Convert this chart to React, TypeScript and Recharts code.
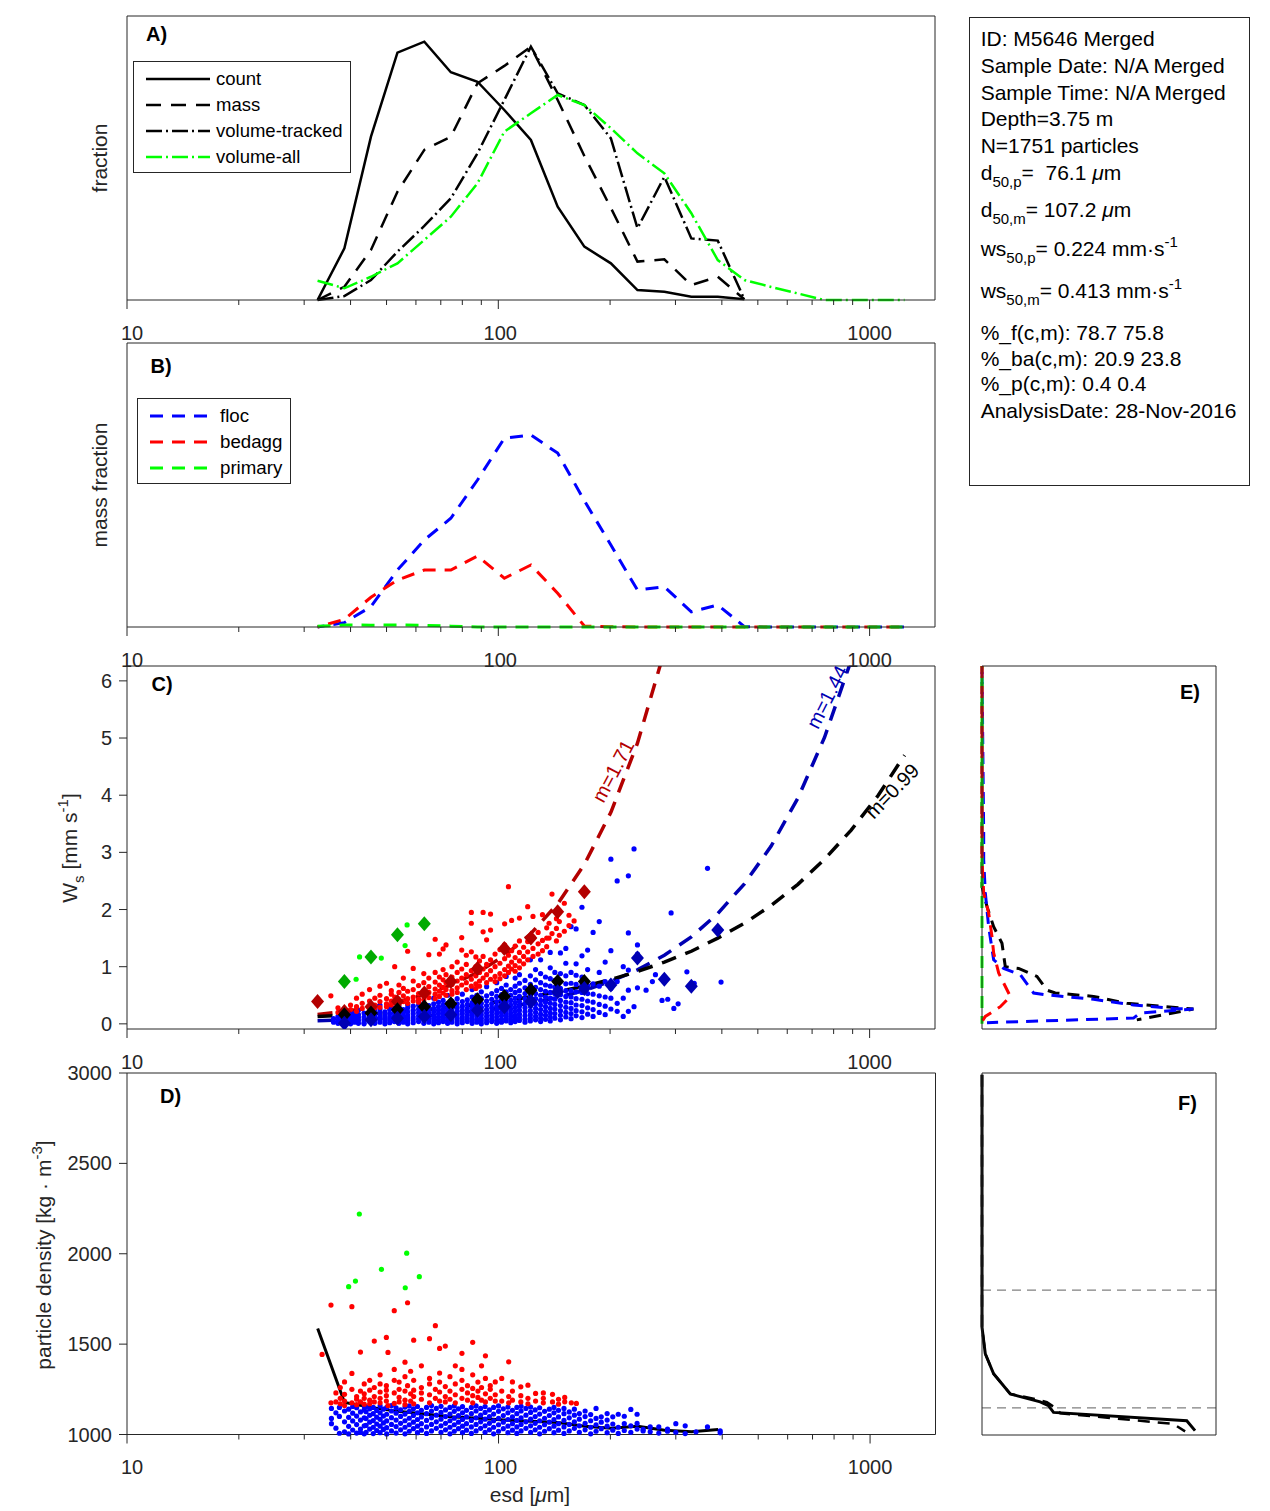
import React from 'react';
import { ComposedChart, Line, Scatter, XAxis, YAxis, ReferenceLine } from 'recharts';

const AX = '#262626';
const FONT = '"Liberation Sans", Arial, Helvetica, sans-serif';
const ZERO = { top: 0, right: 0, bottom: 0, left: 0 };
const DARK_RED = '#b30000';
const DARK_BLUE = '#0000b3';
const DARK_GREEN = '#00aa00';

// esd bin centres [um]
const BINS = [32.6, 38.5, 45.4, 53.5, 63.2, 74.5, 87.9, 103.8, 122.4, 144.5, 170.5, 201, 237, 280, 331, 390, 460, 543, 641, 756, 892, 1053, 1242];
const LOG_TICKS = [10, 20, 30, 40, 50, 60, 70, 80, 90, 100, 200, 300, 400, 500, 600, 700, 800, 900, 1000];
const X_DOMAIN = [10, 1500];
const WS_TICKS = [0, 1, 2, 3, 4, 5, 6];
const WS_DOMAIN = [-0.09, 6.26];
const RHO_TICKS = [1000, 1500, 2000, 2500, 3000];
const RHO_DOMAIN = [1000, 3000];

// A) size distributions
const COUNT = [0, 0.03, 0.0949, 0.1437, 0.1501, 0.1323, 0.1268, 0.1104, 0.093, 0.0542, 0.031, 0.0213, 0.0058, 0.0048, 0.0019, 0.0019, 0.0004];
const MASS = [0, 0.0077, 0.0291, 0.0629, 0.0872, 0.0949, 0.1259, 0.136, 0.1472, 0.1162, 0.0837, 0.0535, 0.0223, 0.0236, 0.0087, 0.0135, 0.0004];
const VOL_TRACKED = [0, 0.0023, 0.0116, 0.0281, 0.043, 0.0591, 0.0852, 0.1162, 0.1472, 0.1201, 0.1133, 0.0939, 0.0417, 0.0716, 0.0358, 0.0345, 0.0004];
const VOL_ALL = [0.0112, 0.0068, 0.0135, 0.0213, 0.0349, 0.0484, 0.0678, 0.0978, 0.1085, 0.1191, 0.1133, 0.0998, 0.0852, 0.0736, 0.0504, 0.0232, 0.0116, 0.0076, 0.0038, 0, 0, 0, 0];

// B) mass fraction by class
const FLOC_MF = [0, 0.0026, 0.0122, 0.0341, 0.0521, 0.0651, 0.088, 0.113, 0.1149, 0.1041, 0.0756, 0.0491, 0.0221, 0.0241, 0.0091, 0.0132, 0.0002, 0, 0, 0, 0, 0, 0];
const BEDAGG_MF = [0, 0.0046, 0.0178, 0.0281, 0.0341, 0.0341, 0.0425, 0.0292, 0.0371, 0.0202, 0.0006, 0.0002, 0, 0, 0, 0, 0, 0, 0, 0, 0, 0, 0];
const PRIMARY_MF = [0.0004, 0.0012, 0.0011, 0.0012, 0.001, 0.0005, 0, 0, 0, 0, 0, 0, 0, 0, 0, 0, 0, 0, 0, 0, 0, 0, 0];

// C) settling velocity [mm/s] per particle, grouped by esd
const FLOC_WS: [number, number[]][] = [
  [36, [0.03, 0.09]], [37, [0.01, 0.06, 0.13]], [38, [0.0, 0.04, 0.1, 0.17]], [39, [0.02, 0.07, 0.12, 0.2]],
  [40, [0.0, 0.05, 0.1, 0.15, 0.22]], [41, [0.03, 0.08, 0.13, 0.18]], [42, [0.01, 0.06, 0.11, 0.16, 0.24]],
  [43.5, [0.0, 0.02, 0.07, 0.12, 0.19]], [45, [0.04, 0.09, 0.14, 0.21, 0.28]], [46.5, [0.01, 0.06, 0.11, 0.17, 0.23]],
  [48, [0.03, 0.08, 0.13, 0.19, 0.26, 0.33]], [49.5, [0.0, 0.05, 0.1, 0.15, 0.21]], [51, [0.02, 0.07, 0.12, 0.18, 0.25, 0.31]],
  [52.5, [0.04, 0.09, 0.14, 0.2, 0.27]], [54, [0.01, 0.06, 0.11, 0.16, 0.22, 0.3, 0.38]], [55.5, [0.03, 0.08, 0.13, 0.19, 0.25]],
  [57, [0.0, 0.05, 0.1, 0.15, 0.21, 0.28, 0.34]], [59, [0.02, 0.07, 0.12, 0.18, 0.24, 0.31]],
  [61, [0.04, 0.09, 0.14, 0.2, 0.26, 0.33, 0.42]], [63, [0.01, 0.06, 0.11, 0.16, 0.22, 0.29, 0.36]],
  [65, [0.03, 0.08, 0.13, 0.19, 0.25, 0.32]], [67, [0.0, 0.05, 0.1, 0.15, 0.21, 0.27, 0.35, 0.45]],
  [69, [0.02, 0.07, 0.12, 0.18, 0.24, 0.3, 0.38]], [71, [0.04, 0.09, 0.14, 0.2, 0.26, 0.33, 0.41]],
  [73, [0.01, 0.06, 0.11, 0.17, 0.23, 0.29, 0.36, 0.5]], [75, [0.03, 0.08, 0.13, 0.19, 0.25, 0.32, 0.4]],
  [77.5, [0.0, 0.05, 0.1, 0.16, 0.22, 0.28, 0.35, 0.44]], [80, [0.02, 0.07, 0.12, 0.18, 0.24, 0.31, 0.39, 0.52]],
  [82.5, [0.04, 0.09, 0.15, 0.21, 0.27, 0.34, 0.42]], [85, [0.01, 0.06, 0.11, 0.17, 0.23, 0.3, 0.37, 0.47, 0.6]],
  [87.5, [0.03, 0.08, 0.14, 0.2, 0.26, 0.33, 0.41, 0.5]], [90, [0.0, 0.05, 0.1, 0.16, 0.22, 0.29, 0.36, 0.45, 0.56]],
  [93, [0.02, 0.07, 0.13, 0.19, 0.25, 0.32, 0.4, 0.49, 0.65]], [96, [0.04, 0.09, 0.15, 0.21, 0.28, 0.35, 0.43, 0.53]],
  [99, [0.01, 0.06, 0.12, 0.18, 0.24, 0.31, 0.39, 0.48, 0.58, 0.72]], [102, [0.03, 0.08, 0.14, 0.2, 0.27, 0.34, 0.42, 0.51, 0.62]],
  [105, [0.05, 0.1, 0.16, 0.23, 0.3, 0.38, 0.46, 0.56, 0.68, 0.83]], [108, [0.02, 0.07, 0.13, 0.19, 0.26, 0.33, 0.41, 0.5, 0.6]],
  [111, [0.04, 0.09, 0.15, 0.22, 0.29, 0.37, 0.45, 0.55, 0.66, 0.8]], [114, [0.06, 0.11, 0.17, 0.24, 0.31, 0.39, 0.48, 0.58, 0.71, 0.86]],
  [118, [0.03, 0.08, 0.14, 0.21, 0.28, 0.36, 0.44, 0.53, 0.63, 0.76]], [122, [0.05, 0.1, 0.16, 0.23, 0.31, 0.39, 0.48, 0.58, 0.69, 0.84, 1.12]],
  [126, [0.07, 0.13, 0.2, 0.27, 0.35, 0.44, 0.53, 0.64, 0.77, 0.95]], [130, [0.04, 0.1, 0.17, 0.25, 0.33, 0.41, 0.5, 0.6, 0.72, 0.88, 1.12]],
  [134, [0.08, 0.15, 0.22, 0.3, 0.38, 0.47, 0.57, 0.68, 0.82]], [138, [0.05, 0.12, 0.19, 0.27, 0.36, 0.45, 0.55, 0.66, 0.79, 0.98, 1.25]],
  [142, [0.1, 0.18, 0.26, 0.34, 0.43, 0.53, 0.64, 0.76, 0.9]], [147, [0.07, 0.15, 0.23, 0.32, 0.41, 0.51, 0.62, 0.74, 0.88, 1.24]],
  [152, [0.12, 0.2, 0.29, 0.38, 0.48, 0.58, 0.7, 0.84, 1.06, 1.32]], [157, [0.09, 0.18, 0.27, 0.37, 0.47, 0.58, 0.71, 0.9, 1.7]],
  [162, [0.14, 0.23, 0.33, 0.44, 0.56, 0.69, 0.85, 1.05, 1.66]], [168, [0.11, 0.21, 0.32, 0.43, 0.55, 0.68, 0.82, 1.19, 2.04]],
  [174, [0.17, 0.28, 0.4, 0.53, 0.67, 0.95, 1.29]], [180, [0.13, 0.25, 0.38, 0.52, 0.7, 1.6]],
  [187, [0.2, 0.34, 0.49, 0.66, 0.9, 1.79]], [194, [0.16, 0.31, 0.47, 0.74, 1.08]], [201, [0.26, 0.45, 0.62, 1.28, 2.88]],
  [209, [0.22, 0.36, 0.74, 2.5]], [217, [0.13, 0.45, 1.0]], [224, [0.22, 0.59, 0.94, 1.59, 2.59]], [232, [0.3, 3.06]],
  [237, [0.63, 1.22, 1.38]], [250, [0.59]], [260, [0.74]], [265, [0.86]], [276, [0.41]], [286, [0.43]], [292, [1.94]],
  [297, [0.27]], [305, [0.35]], [322, [0.91]], [337, [0.71]], [366, [2.72]], [398, [0.73]],
];
const BEDAGG_WS: [number, number[]][] = [
  [33, [0.39]], [35.4, [0.49]], [37, [0.2, 0.28]], [38.5, [0.22, 0.17]], [40, [0.25, 0.33]], [41.5, [0.45, 0.3, 0.22]],
  [43, [0.27, 0.36, 0.52]], [45, [0.3, 0.4, 0.24, 0.6]], [46.5, [0.33, 0.45, 0.28]], [48, [0.39, 0.29, 0.5, 0.66]],
  [50, [0.71, 0.35, 0.44, 0.3]], [51.5, [0.4, 0.52, 0.33, 0.58]], [52.6, [1.0, 0.37, 0.47]], [54, [0.42, 0.55, 0.34, 0.68]],
  [55.5, [0.39, 0.49, 0.62, 0.8]], [57, [1.27, 0.44, 0.36, 0.57]], [59, [0.97, 0.47, 0.4, 0.6, 0.75]], [61, [0.43, 0.53, 0.67, 0.38]],
  [63, [0.49, 0.58, 0.72, 0.88, 0.42]], [65, [1.21, 0.46, 0.55, 0.65, 0.8]], [67.6, [1.48, 0.52, 0.61, 0.73, 0.9, 0.44]],
  [69.4, [1.22, 0.57, 0.68, 0.82, 0.48]], [71, [1.31, 0.54, 0.64, 0.77, 0.95]], [72.3, [1.38, 0.6, 0.72, 0.86, 0.5]],
  [75, [0.58, 0.69, 0.82, 1.0, 0.52]], [77.5, [0.63, 0.75, 0.9, 1.08, 0.55]], [79.7, [1.51, 1.29, 0.68, 0.8, 0.96]],
  [82, [0.6, 0.72, 0.86, 1.04, 1.2]], [84.6, [1.95, 1.76, 1.26, 0.66, 0.78, 0.93]], [87, [0.7, 0.84, 1.0, 1.17, 0.62]],
  [89, [0.75, 0.9, 1.1, 0.66]], [91, [1.61, 1.95, 0.8, 0.96, 1.18]], [93, [1.47, 0.72, 0.86, 1.04]],
  [95.3, [1.64, 1.92, 0.78, 0.93, 1.12]], [98, [0.83, 1.0, 1.22, 0.74]], [101, [0.88, 1.06, 1.3, 0.79]],
  [104, [1.75, 0.95, 1.14, 1.38, 0.84]], [106.5, [2.4, 1.01, 1.2, 0.9]], [108.6, [1.81, 1.08, 1.28, 0.96]],
  [111, [1.02, 1.16, 1.36, 0.92]], [114, [1.85, 1.1, 1.25, 1.45, 0.98]], [117, [1.18, 1.34, 1.05]], [120, [2.05, 1.26, 1.44, 1.12]],
  [124, [1.88, 1.32, 1.52, 1.18]], [128, [1.4, 1.6, 1.22]], [131.5, [1.91, 1.46, 1.28]], [135, [1.5, 1.68, 1.35]],
  [137, [1.5, 1.76]], [139.5, [2.27, 1.58]], [143.4, [1.67, 1.84, 1.45]], [146, [1.79, 1.55]], [150.6, [2.11, 1.62]],
  [155, [1.9, 1.72]], [160, [1.8]],
];
const PRIMARY_WS: [number, number][] = [[41.4, 0.78], [42.3, 1.17], [48.4, 1.15], [56.1, 1.37], [56.8, 1.73]];

// C) bin medians (diamonds), each starting at the given bin index
const BEDAGG_MED = [0.39, 0.215, 0.3, 0.39, 0.54, 0.74, 0.97, 1.32, 1.5, 1.96, 2.31];
const PRIMARY_MED = [0.74, 1.17, 1.56, 1.75];
const ALL_MED = [0.16, 0.19, 0.245, 0.3, 0.35, 0.42, 0.48, 0.59, 0.74, 0.74];
const FLOC_MED = [0.01, 0.07, 0.1, 0.13, 0.16, 0.24, 0.3, 0.39, 0.56, 0.62, 0.68, 1.15, 0.78, 0.66, 1.64];

// C) fitted power laws read along the bins
const FIT_BEDAGG = [0.165, 0.218, 0.29, 0.385, 0.51, 0.677, 0.899, 1.19, 1.58, 2.1, 2.79, 3.7, 4.91, 6.52];
const FIT_FLOC = [0.054, 0.069, 0.087, 0.11, 0.14, 0.178, 0.226, 0.287, 0.364, 0.462, 0.586, 0.744, 0.944, 1.2, 1.52, 1.93, 2.45, 3.11, 3.95, 5.01, 6.36];
const FIT_ALL = [0.128, 0.151, 0.178, 0.209, 0.247, 0.291, 0.342, 0.403, 0.475, 0.56, 0.66, 0.777, 0.915, 1.08, 1.27, 1.5, 1.76, 2.07, 2.44, 2.88, 3.39, 3.99, 4.7];

// D) particle density [kg/m3] per particle, grouped by esd
const FLOC_RHO: [number, number[]][] = [
  [35.5, [1144, 1089, 1060]], [36.5, [1120, 1035]], [37.3, [1007, 1100, 1150]], [38.5, [1015, 1070, 1130]],
  [39.5, [1003, 1045, 1095, 1140]], [40.5, [1025, 1075, 1118, 1155]], [41.5, [1008, 1055, 1102, 1148]],
  [42.5, [1012, 1030, 1080, 1125]], [43.5, [1004, 1048, 1092, 1136, 1158]],
  [44, [1012, 1050, 1088, 1126, 1155]], [45, [1030, 1068, 1106, 1142]], [46, [1005, 1040, 1077, 1115, 1150]],
  [47, [1022, 1058, 1096, 1133]], [48, [1010, 1046, 1084, 1120, 1158]], [49, [1028, 1064, 1102, 1140]],
  [50, [1003, 1038, 1075, 1112, 1150]], [51.5, [1020, 1056, 1093, 1130, 1160]], [53, [1008, 1044, 1080, 1118, 1148]],
  [54.5, [1026, 1062, 1100, 1137]], [56, [1004, 1040, 1076, 1113, 1152]], [57.5, [1018, 1054, 1090, 1128, 1158]],
  [59, [1032, 1068, 1105, 1142]], [60.5, [1010, 1046, 1083, 1120, 1155]], [62, [1024, 1060, 1097, 1134]],
  [64, [1006, 1042, 1078, 1115, 1150]], [66, [1020, 1056, 1092, 1130, 1160]], [68, [1034, 1070, 1107, 1144]],
  [70, [1012, 1048, 1085, 1122, 1156]], [72, [1026, 1062, 1099, 1136]], [74, [1004, 1040, 1076, 1113, 1150]],
  [76, [1018, 1054, 1090, 1128, 1158]], [78, [1032, 1068, 1105, 1142]], [80, [1010, 1046, 1083, 1120, 1154]],
  [82, [1024, 1060, 1097, 1134]], [84.5, [1006, 1042, 1078, 1115, 1150]], [87, [1020, 1056, 1092, 1130, 1158]],
  [89.5, [1034, 1070, 1107, 1144]], [92, [1012, 1048, 1085, 1122, 1155]], [94.5, [1026, 1062, 1099, 1136]],
  [97, [1004, 1040, 1076, 1113, 1150]], [100, [1018, 1054, 1090, 1128, 1158]], [103, [1032, 1068, 1105, 1142]],
  [106, [1010, 1046, 1083, 1120, 1152]], [109, [1024, 1060, 1097, 1134]], [112, [1006, 1042, 1078, 1115, 1150]],
  [115, [1020, 1056, 1092, 1130, 1156]], [118.5, [1034, 1070, 1107, 1144]], [122, [1012, 1048, 1085, 1122, 1152]],
  [125.5, [1026, 1062, 1099, 1136]], [129, [1004, 1040, 1076, 1113, 1148]], [133, [1018, 1054, 1090, 1128]],
  [137, [1032, 1068, 1105, 1140]], [141, [1010, 1046, 1083, 1120, 1150]], [145, [1024, 1060, 1097, 1134]],
  [150, [1006, 1042, 1078, 1115, 1144]], [155, [1020, 1056, 1092, 1125]], [160, [1034, 1070, 1107, 1140]],
  [165, [1012, 1048, 1085, 1116]], [171, [1026, 1062, 1099, 1130]], [177, [1004, 1040, 1076, 1110]],
  [183, [1018, 1054, 1089, 1144]], [189, [1032, 1068, 1098]], [196, [1010, 1046, 1080, 1116]], [203, [1024, 1058, 1098]],
  [210, [1006, 1040, 1112]], [218, [1022, 1060, 1101]], [227, [1012, 1048, 1139]], [236, [1030, 1061, 1112]],
  [245, [1020, 1028]], [256, [1015, 1042]], [270, [1008, 1042]], [285, [1030, 1018]], [300, [1012, 1060]],
  [318, [1005, 1048]], [340, [1015]], [365, [1042]], [395, [1009, 1020]],
];
const BEDAGG_RHO: [number, number[]][] = [
  [33.5, [1443]], [35.4, [1716, 1175]], [36.5, [1180, 1230]], [37.5, [1170, 1260, 1200]], [38.5, [1291, 1185, 1222, 1160]],
  [40.3, [1707, 1338, 1175, 1250]], [41.5, [1195, 1165, 1210]], [42.5, [1456, 1240, 1180]], [43.5, [1280, 1200, 1168, 1225]],
  [45, [1300, 1190, 1245, 1170]], [46.3, [1517, 1260, 1210, 1180]], [48, [1330, 1235, 1175, 1200, 1280]],
  [49.9, [1537, 1270, 1215, 1185, 1245]], [50.4, [1454, 1160]], [52.4, [1685, 1360, 1230, 1172, 1300]],
  [54, [1290, 1205, 1250, 1180]], [56, [1400, 1240, 1190, 1320, 1165]], [56.9, [1729, 1270]], [58, [1350, 1225, 1185]],
  [59.1, [1522, 1300, 1210, 1245, 1170]], [62, [1380, 1260, 1195, 1230]], [65.2, [1530, 1310, 1220, 1175, 1280]],
  [67.6, [1602, 1250, 1200]], [69.4, [1476, 1340, 1235, 1185, 1290]], [71.9, [1489, 1265, 1210, 1180]],
  [74, [1320, 1240, 1195]], [76.5, [1380, 1280, 1220, 1175]], [79.7, [1449, 1360, 1250, 1200, 1300]],
  [82.5, [1230, 1190, 1270]], [85.2, [1510, 1330, 1215, 1175, 1255]], [88, [1290, 1205, 1240]], [90, [1380, 1260, 1190]],
  [92.2, [1435, 1310, 1225, 1180]], [95, [1270, 1200, 1250]], [98, [1291, 1185, 1220]], [102, [1310, 1185, 1240]],
  [106.5, [1402, 1210, 1175]], [109, [1291, 1190, 1240]], [114.8, [1264, 1180, 1215]], [120, [1273, 1200, 1170]],
  [125.8, [1227, 1185]], [132, [1200, 1175, 1230]], [139.7, [1222, 1180]], [145, [1195, 1168]], [150.7, [1181, 1205]],
  [157, [1175]], [162, [1172]],
];
const PRIMARY_RHO: [number, number][] = [[39.5, 1818], [41.2, 1849], [42.2, 2220], [48.4, 1914], [56.6, 2003], [56.1, 1812], [61.2, 1873]];
const RHO_MED = [1587, 1177, 1150, 1128, 1113, 1098, 1090, 1080, 1073, 1066, 1046, 1035, 1045, 1024, 1015, 1028];

// E) ws distributions [fraction, ws]
const E_ALL: [number, number][] = [[0, 6.26], [0, 2.4], [0.0107, 2.05], [0.0249, 1.7], [0.0427, 1.41], [0.0498, 1.0], [0.0783, 0.97], [0.1174, 0.83], [0.1387, 0.59], [0.1565, 0.54], [0.2384, 0.48], [0.3095, 0.36], [0.4517, 0.26], [0.3308, 0.07]];
const E_FLOC: [number, number][] = [[0, 6.26], [0.0036, 3.33], [0.0036, 2.87], [0.0071, 2.29], [0.0142, 1.7], [0.0249, 1.12], [0.0462, 0.97], [0.0818, 0.86], [0.1103, 0.54], [0.1352, 0.51], [0.2384, 0.43], [0.3237, 0.33], [0.409, 0.27], [0.4517, 0.26], [0.3376, 0.19], [0.3237, 0.1], [0.0107, 0.02]];
const E_BEDAGG: [number, number][] = [[0, 6.26], [0, 2.87], [0.0036, 2.29], [0.0142, 1.94], [0.0213, 1.53], [0.0249, 1.24], [0.0356, 0.89], [0.0605, 0.48], [0.0391, 0.3], [0.0071, 0.13], [0, 0.04]];
const E_PRIMARY: [number, number][] = [[0, 6.26], [0, 0]];

// F) density distributions [fraction, density]
const F_SOLID: [number, number][] = [[0, 2990], [0, 1800], [0, 1596], [0.007, 1449], [0.0248, 1338], [0.0604, 1227], [0.1244, 1183], [0.1421, 1162], [0.1528, 1125], [0.4375, 1079], [0.4552, 1024]];
const F_DASHED: [number, number][] = [[0, 2990], [0, 1800], [0, 1596], [0.007, 1449], [0.0248, 1338], [0.0604, 1227], [0.1138, 1199], [0.1387, 1181], [0.1601, 1144], [0.1672, 1120], [0.409, 1061], [0.434, 1020]];
const F_LIMITS = [1800, 1150];

const binned = (vals: number[], from = 0) => vals.map((v, i) => ({ d: BINS[from + i], v }));
const columns = (cols: [number, number[]][]) => cols.flatMap(([d, vs]) => vs.map((v) => ({ d, v })));
const pairs = (p: [number, number][]) => p.map(([d, v]) => ({ d, v }));

const isMajor = (v: number) => v === 10 || v === 100 || v === 1000;
const LABEL_NUDGE: Record<number, number> = { 10: 5, 100: 2, 1000: 0 };

function BottomTick(p: any) {
  const major = isMajor(p.payload.value);
  return (
    <g>
      <line x1={p.x} x2={p.x} y1={p.y} y2={p.y + (major ? 9 : 5)} stroke={AX} strokeWidth={1} />
      {major ? (
        <text x={p.x + LABEL_NUDGE[p.payload.value]} y={p.y + 39.5} textAnchor="middle" fontSize={20} fill={AX} fontFamily={FONT}>
          {p.payload.value}
        </text>
      ) : null}
    </g>
  );
}
function TopTick(p: any) {
  const major = isMajor(p.payload.value);
  return <line x1={p.x} x2={p.x} y1={p.y} y2={p.y - (major ? 9 : 5)} stroke={AX} strokeWidth={1} />;
}
function LeftTick(p: any) {
  return (
    <g>
      <line x1={p.x} x2={p.x - 8} y1={p.y} y2={p.y} stroke={AX} strokeWidth={1} />
      <text x={p.x - 15} y={p.y + 7} textAnchor="end" fontSize={20} fill={AX} fontFamily={FONT}>
        {p.payload.value}
      </text>
    </g>
  );
}
const rightTick = (inward: boolean) => (p: any) => (
  <line x1={p.x} x2={p.x + (inward ? -8 : 8)} y1={p.y} y2={p.y} stroke={AX} strokeWidth={1} />
);

const dot = (fill: string) => (p: any) => <circle cx={p.cx} cy={p.cy} r={2.6} fill={fill} />;
const diamond = (fill: string) => (p: any) => (
  <polygon points={`${p.cx},${p.cy - 7.5} ${p.cx + 6.5},${p.cy} ${p.cx},${p.cy + 7.5} ${p.cx - 6.5},${p.cy}`} fill={fill} />
);

const logAxes = (topH: number) => [
  <XAxis key="xb" xAxisId="b" dataKey="d" type="number" scale="log" domain={X_DOMAIN} ticks={LOG_TICKS} interval={0}
    height={45} tickSize={0} tickMargin={0} tickLine={false} axisLine={{ stroke: AX }} tick={(p: any) => <BottomTick {...p} />} />,
  <XAxis key="xt" xAxisId="t" orientation="top" dataKey="d" type="number" scale="log" domain={X_DOMAIN} ticks={LOG_TICKS} interval={0}
    height={topH} tickSize={0} tickMargin={0} tickLine={false} axisLine={{ stroke: AX }} tick={(p: any) => <TopTick {...p} />} />,
];

const line = (key: string, data: any[], color: string, width: number, dash?: string, offset = 0) => (
  <Line key={key} xAxisId="b" yAxisId="l" data={data} dataKey="v" type="linear" stroke={color} strokeWidth={width}
    strokeDasharray={dash} strokeDashoffset={offset} dot={false} activeDot={false} isAnimationActive={false} />
);
const scatter = (key: string, data: any[], shape: any) => (
  <Scatter key={key} xAxisId="b" yAxisId="l" data={data} dataKey="v" shape={shape} isAnimationActive={false} />
);

const abs = (left: number, top: number): React.CSSProperties => ({ position: 'absolute', left, top });

function VTitle({ x, y, children }: any) {
  return (
    <div style={{ position: 'absolute', left: x, top: y, transform: 'translate(-50%,-50%) rotate(-90deg)', fontSize: 21, lineHeight: '24px', whiteSpace: 'nowrap', color: AX }}>
      {children}
    </div>
  );
}
function Tag({ x, y, text }: any) {
  return (
    <div style={{ position: 'absolute', left: x, top: y - 12, fontSize: 20, lineHeight: '24px', fontWeight: 'bold', color: '#000' }}>{text}</div>
  );
}
function SlopeLabel({ x, y, angle, color, text }: any) {
  return (
    <div style={{ position: 'absolute', left: x, top: y, transform: `translate(-50%,-50%) rotate(${angle}deg)`, fontSize: 20, lineHeight: '24px', whiteSpace: 'nowrap', color }}>
      {text}
    </div>
  );
}
const Sub = ({ children }: any) => <span style={{ fontSize: 15, position: 'relative', top: 7 }}>{children}</span>;
const Sup = ({ children }: any) => <span style={{ fontSize: 15, position: 'relative', top: -9 }}>{children}</span>;

function LegendBox({ left, top, width, height, font, items }: any) {
  return (
    <div style={{ position: 'absolute', left, top, width, height, border: `1px solid ${AX}`, background: '#fff', boxSizing: 'border-box' }}>
      {items.map((it: any) => (
        <div key={it.label} style={{ position: 'absolute', left: 0, top: it.y - 12, width: width - 2, height: 22 }}>
          <svg width={width - 2} height={22} style={{ position: 'absolute', left: 0, top: 0 }}>
            <line x1={it.x1} x2={it.x2} y1={11} y2={11} stroke={it.color} strokeWidth={it.w} strokeDasharray={it.dash} />
          </svg>
          <span style={{ position: 'absolute', left: it.tx, top: 0, fontSize: font, lineHeight: '22px', color: '#000', whiteSpace: 'nowrap' }}>{it.label}</span>
        </div>
      ))}
    </div>
  );
}

function InfoLine({ y, children }: any) {
  return (
    <div style={{ position: 'absolute', left: 10.7, top: y - 18 - 12, fontSize: 21, lineHeight: '24px', whiteSpace: 'pre', color: '#000' }}>{children}</div>
  );
}

const DASH = '15 10';
const DASHDOT = '16 4 2 4';

export default function App() {
  return (
    <div style={{ position: 'absolute', left: 0, top: 0, width: 1270, height: 1511, background: '#fff', fontFamily: FONT, overflow: 'hidden' }}>
      {/* A) */}
      <div style={abs(0, 0)}>
        <ComposedChart width={955} height={345} margin={ZERO}>
          {logAxes(16)}
          <YAxis yAxisId="l" dataKey="v" type="number" domain={[0, 0.165]} width={127} tick={false} tickLine={false} axisLine={{ stroke: AX }} />
          <YAxis yAxisId="r" orientation="right" type="number" domain={[0, 0.165]} width={20} tick={false} tickLine={false} axisLine={{ stroke: AX }} />
          {line('count', binned(COUNT), '#000', 2.5)}
          {line('mass', binned(MASS), '#000', 2.5, DASH)}
          {line('voltr', binned(VOL_TRACKED), '#000', 2.5, DASHDOT)}
          {line('volall', binned(VOL_ALL), '#00ff00', 2.5, DASHDOT)}
        </ComposedChart>
      </div>

      {/* B) */}
      <div style={abs(0, 323)}>
        <ComposedChart width={955} height={349} margin={ZERO}>
          {logAxes(20)}
          <YAxis yAxisId="l" dataKey="v" type="number" domain={[0, 0.17]} width={127} tick={false} tickLine={false} axisLine={{ stroke: AX }} />
          <YAxis yAxisId="r" orientation="right" type="number" domain={[0, 0.17]} width={20} tick={false} tickLine={false} axisLine={{ stroke: AX }} />
          {line('floc', binned(FLOC_MF), '#0000ff', 3, '13 9', 6)}
          {line('bedagg', binned(BEDAGG_MF), '#ff0000', 3, '13 9', 11)}
          {line('primary', binned(PRIMARY_MF), '#00ff00', 3, '13 9')}
        </ComposedChart>
      </div>

      {/* C) */}
      <div style={abs(0, 646)}>
        <ComposedChart width={955} height={428} margin={ZERO}>
          {logAxes(20)}
          <YAxis yAxisId="l" dataKey="v" type="number" domain={WS_DOMAIN} allowDataOverflow ticks={WS_TICKS} interval={0} width={127}
            tickSize={0} tickMargin={0} tickLine={false} axisLine={{ stroke: AX }} tick={(p: any) => <LeftTick {...p} />} />
          <YAxis yAxisId="r" orientation="right" type="number" domain={WS_DOMAIN} ticks={WS_TICKS} interval={0} width={20}
            tickSize={0} tickMargin={0} tickLine={false} axisLine={{ stroke: AX }} tick={rightTick(false)} />
          {scatter('flocpts', columns(FLOC_WS), dot('#0000ff'))}
          {scatter('bedaggpts', columns(BEDAGG_WS), dot('#ff0000'))}
          {scatter('primpts', pairs(PRIMARY_WS), dot('#00ff00'))}
          {scatter('bedaggmed', binned(BEDAGG_MED), diamond(DARK_RED))}
          {scatter('primmed', binned(PRIMARY_MED, 1), diamond(DARK_GREEN))}
          {scatter('allmed', binned(ALL_MED, 1), diamond('#000'))}
          {scatter('flocmed', binned(FLOC_MED, 1), diamond(DARK_BLUE))}
          {line('fitbedagg', binned(FIT_BEDAGG), DARK_RED, 3.5, DASH)}
          {line('fitfloc', binned(FIT_FLOC), DARK_BLUE, 3.5, DASH)}
          {line('fitall', binned(FIT_ALL), '#000', 3.5, DASH)}
        </ComposedChart>
      </div>

      {/* D) */}
      <div style={abs(0, 1053)}>
        <ComposedChart width={955.5} height={426.5} margin={ZERO}>
          {logAxes(20)}
          <YAxis yAxisId="l" dataKey="v" type="number" domain={RHO_DOMAIN} ticks={RHO_TICKS} interval={0} width={127}
            tickSize={0} tickMargin={0} tickLine={false} axisLine={{ stroke: AX }} tick={(p: any) => <LeftTick {...p} />} />
          <YAxis yAxisId="r" orientation="right" type="number" domain={RHO_DOMAIN} ticks={RHO_TICKS} interval={0} width={20}
            tickSize={0} tickMargin={0} tickLine={false} axisLine={{ stroke: AX }} tick={rightTick(false)} />
          {scatter('flocrho', columns(FLOC_RHO), dot('#0000ff'))}
          {scatter('bedaggrho', columns(BEDAGG_RHO), dot('#ff0000'))}
          {scatter('primrho', pairs(PRIMARY_RHO), dot('#00ff00'))}
          {line('rhomed', binned(RHO_MED), '#000', 3)}
        </ComposedChart>
      </div>

      {/* E) */}
      <div style={abs(972, 656)}>
        <ComposedChart width={254} height={383} margin={ZERO}>
          <XAxis xAxisId="b" dataKey="d" type="number" domain={[0, 0.5]} height={10} tick={false} tickLine={false} axisLine={{ stroke: AX }} />
          <XAxis xAxisId="t" orientation="top" type="number" domain={[0, 0.5]} height={10} tick={false} tickLine={false} axisLine={{ stroke: AX }} />
          <YAxis yAxisId="l" dataKey="v" type="number" domain={WS_DOMAIN} width={10} tick={false} tickLine={false} axisLine={{ stroke: AX }} />
          <YAxis yAxisId="r" orientation="right" type="number" domain={WS_DOMAIN} ticks={WS_TICKS} interval={0} width={10}
            tickSize={0} tickMargin={0} tickLine={false} axisLine={{ stroke: AX }} tick={rightTick(true)} />
          {line('eall', pairs(E_ALL), '#000', 3, '12 8', 4)}
          {line('efloc', pairs(E_FLOC), '#0000ff', 3, '12 8', 14)}
          {line('eprim', pairs(E_PRIMARY), '#00ff00', 3, '12 8', 10)}
          {line('ebedagg', pairs(E_BEDAGG), '#ff0000', 3, '12 8')}
        </ComposedChart>
      </div>

      {/* F) */}
      <div style={abs(972, 1063)}>
        <ComposedChart width={254} height={382} margin={ZERO}>
          <XAxis xAxisId="b" dataKey="d" type="number" domain={[0, 0.5]} height={10} tick={false} tickLine={false} axisLine={{ stroke: AX }} />
          <XAxis xAxisId="t" orientation="top" type="number" domain={[0, 0.5]} height={10} tick={false} tickLine={false} axisLine={{ stroke: AX }} />
          <YAxis yAxisId="l" dataKey="v" type="number" domain={RHO_DOMAIN} width={10} tick={false} tickLine={false} axisLine={{ stroke: AX }} />
          <YAxis yAxisId="r" orientation="right" type="number" domain={RHO_DOMAIN} ticks={RHO_TICKS} interval={0} width={10}
            tickSize={0} tickMargin={0} tickLine={false} axisLine={{ stroke: AX }} tick={rightTick(true)} />
          {F_LIMITS.map((y) => (
            <ReferenceLine key={y} xAxisId="b" yAxisId="l" y={y} stroke="#808080" strokeWidth={1.3} strokeDasharray="9 6" />
          ))}
          {line('fsolid', pairs(F_SOLID), '#000', 3)}
          {line('fdashed', pairs(F_DASHED), '#000', 2.5, '12 8')}
        </ComposedChart>
      </div>

      {/* axis titles */}
      <VTitle x={99.5} y={158}>fraction</VTitle>
      <VTitle x={100} y={485}>mass fraction</VTitle>
      <VTitle x={70.5} y={848}>
        W<Sub>s</Sub> [mm s<Sup>-1</Sup>]
      </VTitle>
      <VTitle x={45} y={1255}>
        particle density [kg · m<Sup>-3</Sup>]
      </VTitle>
      <div style={{ position: 'absolute', left: 530, top: 1495, transform: 'translate(-50%,-50%)', fontSize: 21, lineHeight: '24px', whiteSpace: 'nowrap', color: AX }}>
        esd [<i>μ</i>m]
      </div>

      {/* panel tags */}
      <Tag x={146} y={34} text="A)" />
      <Tag x={150.5} y={366} text="B)" />
      <Tag x={151.5} y={684} text="C)" />
      <Tag x={160} y={1096} text="D)" />
      <Tag x={1180} y={691.5} text="E)" />
      <Tag x={1178} y={1102.5} text="F)" />

      {/* fit slopes */}
      <SlopeLabel x={613} y={771} angle={-62} color={DARK_RED} text="m=1.71" />
      <SlopeLabel x={827} y={697} angle={-63} color={DARK_BLUE} text="m=1.44" />
      <SlopeLabel x={892} y={791} angle={-46} color="#000" text="m=0.99" />

      <LegendBox left={133} top={61} width={218} height={112} font={18.5}
        items={[
          { label: 'count', y: 18.3, x1: 12, x2: 76, tx: 82, color: '#000', w: 2.5 },
          { label: 'mass', y: 44, x1: 12, x2: 76, tx: 82, color: '#000', w: 2.5, dash: DASH },
          { label: 'volume-tracked', y: 69.7, x1: 12, x2: 76, tx: 82, color: '#000', w: 2.5, dash: DASHDOT },
          { label: 'volume-all', y: 95.7, x1: 12, x2: 76, tx: 82, color: '#00ff00', w: 2.5, dash: DASHDOT },
        ]} />
      <LegendBox left={137} top={398} width={154} height={86} font={18.7}
        items={[
          { label: 'floc', y: 18, x1: 12, x2: 74, tx: 82, color: '#0000ff', w: 3, dash: '13 9' },
          { label: 'bedagg', y: 43.7, x1: 12, x2: 74, tx: 82, color: '#ff0000', w: 3, dash: '13 9' },
          { label: 'primary', y: 69.7, x1: 12, x2: 74, tx: 82, color: '#00ff00', w: 3, dash: '13 9' },
        ]} />

      {/* sample information */}
      <div style={{ position: 'absolute', left: 969, top: 17, width: 281, height: 469, border: `1px solid ${AX}`, boxSizing: 'border-box', background: '#fff' }}>
        <InfoLine y={39.2}>ID: M5646 Merged</InfoLine>
        <InfoLine y={65.8}>Sample Date: N/A Merged</InfoLine>
        <InfoLine y={92.5}>Sample Time: N/A Merged</InfoLine>
        <InfoLine y={119.2}>Depth=3.75 m</InfoLine>
        <InfoLine y={145.8}>N=1751 particles</InfoLine>
        <InfoLine y={172.5}>d<Sub>50,p</Sub>=  76.1 <i>μ</i>m</InfoLine>
        <InfoLine y={210}>d<Sub>50,m</Sub>= 107.2 <i>μ</i>m</InfoLine>
        <InfoLine y={249.2}>ws<Sub>50,p</Sub>= 0.224 mm·s<Sup>-1</Sup></InfoLine>
        <InfoLine y={290.8}>ws<Sub>50,m</Sub>= 0.413 mm·s<Sup>-1</Sup></InfoLine>
        <InfoLine y={332.5}>%_f(c,m): 78.7 75.8</InfoLine>
        <InfoLine y={359.2}>%_ba(c,m): 20.9 23.8</InfoLine>
        <InfoLine y={384.2}>%_p(c,m): 0.4 0.4</InfoLine>
        <InfoLine y={410.8}>AnalysisDate: 28-Nov-2016</InfoLine>
      </div>
    </div>
  );
}
